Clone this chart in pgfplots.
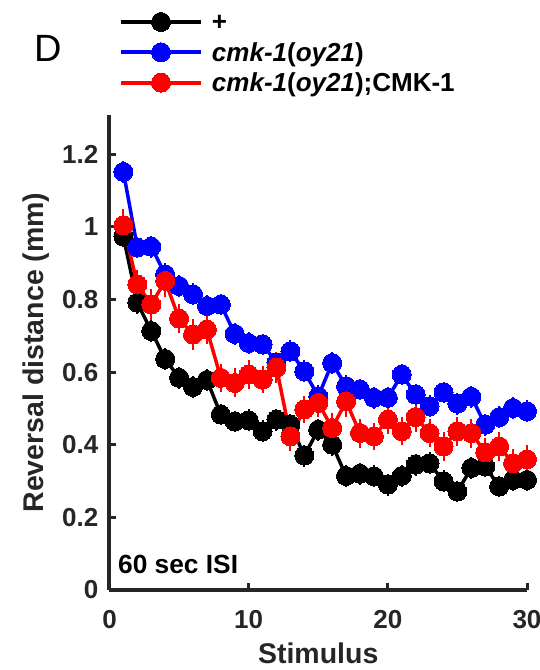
\documentclass[border=0pt]{standalone}
\usepackage{fontspec}
\setmainfont{Liberation Sans}
\usepackage{pgfplots}
\usepackage{pgfplotstable}
\pgfplotsset{compat=1.18}
\definecolor{axgray}{HTML}{262626}

\pgfplotstableread{
x y e
1 0.973 0.030
2 0.791 0.030
3 0.713 0.030
4 0.636 0.030
5 0.584 0.030
6 0.559 0.030
7 0.578 0.030
8 0.483 0.030
9 0.464 0.030
10 0.467 0.030
11 0.437 0.030
12 0.469 0.030
13 0.455 0.030
14 0.370 0.030
15 0.441 0.030
16 0.400 0.030
17 0.314 0.030
18 0.320 0.030
19 0.313 0.030
20 0.290 0.030
21 0.314 0.030
22 0.345 0.030
23 0.349 0.030
24 0.299 0.030
25 0.271 0.030
26 0.336 0.030
27 0.340 0.030
28 0.285 0.030
29 0.303 0.030
30 0.303 0.030
}\wt

\pgfplotstableread{
x y e
1 1.151 0.030
2 0.943 0.030
3 0.945 0.030
4 0.869 0.030
5 0.837 0.030
6 0.814 0.030
7 0.782 0.030
8 0.786 0.030
9 0.705 0.030
10 0.680 0.030
11 0.676 0.030
12 0.626 0.030
13 0.657 0.030
14 0.602 0.030
15 0.533 0.030
16 0.625 0.030
17 0.561 0.030
18 0.552 0.030
19 0.529 0.030
20 0.529 0.030
21 0.593 0.030
22 0.538 0.030
23 0.506 0.030
24 0.544 0.030
25 0.513 0.030
26 0.532 0.030
27 0.455 0.030
28 0.476 0.030
29 0.501 0.030
30 0.492 0.030
}\mut

\pgfplotstableread{
x y e
1 1.004 0.045
2 0.841 0.040
3 0.786 0.042
4 0.851 0.045
5 0.747 0.040
6 0.703 0.042
7 0.717 0.040
8 0.584 0.038
9 0.570 0.040
10 0.593 0.040
11 0.579 0.038
12 0.612 0.042
13 0.423 0.040
14 0.497 0.038
15 0.515 0.040
16 0.446 0.040
17 0.519 0.042
18 0.432 0.040
19 0.423 0.038
20 0.469 0.040
21 0.437 0.038
22 0.476 0.040
23 0.432 0.038
24 0.395 0.040
25 0.437 0.040
26 0.432 0.040
27 0.379 0.040
28 0.395 0.040
29 0.349 0.038
30 0.360 0.040
}\rescue

\begin{document}
\begin{tikzpicture}
\path[use as bounding box] (-109.5pt,-80pt) rectangle (430.5pt,590pt);
\begin{axis}[
  at={(0pt,0pt)}, anchor=south west,
  scale only axis, width=417.5pt, height=475pt,
  xmin=0, xmax=30, ymin=0, ymax=1.3077,
  clip=false,
  axis lines=left,
  axis line style={-, line width=4pt, color=axgray},
  tick align=inside, xtick pos=bottom, ytick pos=left,
  major tick length=7pt,
  tick style={line width=3pt, color=axgray},
  xtick={0,10,20,30},
  ytick={0,0.2,0.4,0.6,0.8,1,1.2},
  yticklabels={0,0.2,0.4,0.6,0.8,1,1.2},
  /pgf/number format/assume math mode=true,
  ticklabel style={font=\fontsize{26}{30}\selectfont\bfseries, color=axgray},
  yticklabel style={inner sep=0pt, anchor=east, xshift=-11pt},
  xticklabel style={inner sep=0pt, anchor=north, yshift=-20pt},
  xlabel={Stimulus},
  ylabel={Reversal distance (mm)},
  label style={font=\fontsize{28.5}{32}\selectfont\bfseries, color=axgray},
  xlabel style={at={(axis description cs:0.5,-0.154)}, anchor=base, inner sep=0pt},
  ylabel style={at={(axis description cs:-0.1746,0.5)}, anchor=center, inner sep=0pt},
  legend style={draw=none, fill=none, at={(0,1)}, anchor=north west,
    xshift=9.5pt, yshift=108pt, inner sep=0pt, outer sep=0pt,
    row sep=0.3pt, column sep=9pt,
    font=\fontsize{26}{30}\selectfont\bfseries,
    nodes={inner sep=0pt, text height=24pt, text depth=6pt},
    cells={anchor=west}},
  legend image code/.code={
    \draw[#1, line width=4pt, mark=none] (0pt,0pt) -- (80pt,0pt);
    \draw[#1, mark repeat=2, mark phase=2, draw=none] plot coordinates {(0pt,0pt) (40pt,0pt) (80pt,0pt)};
  },
  every axis plot/.append style={line width=3.5pt, mark=*, mark size=9.5pt,
     mark options={solid, line width=0pt}},
]
\addplot[black, error bars/.cd, y dir=both, y explicit, error mark=none,
   error bar style={line width=2pt, black}]
   table[x=x, y=y, y error=e] {\wt};
\addlegendentry{+}
\addplot[blue, error bars/.cd, y dir=both, y explicit, error mark=none,
   error bar style={line width=2pt, blue}]
   table[x=x, y=y, y error=e] {\mut};
\addlegendentry{\textit{cmk-1}(\textit{oy21})}
\addplot[red, error bars/.cd, y dir=both, y explicit, error mark=none,
   error bar style={line width=2pt, red}]
   table[x=x, y=y, y error=e] {\rescue};
\addlegendentry{\textit{cmk-1}(\textit{oy21});CMK-1}
\node[anchor=base west, inner sep=0pt, font=\fontsize{26.3}{30}\selectfont\bfseries]
  at (axis description cs:0.0204,0.0337) {60 sec ISI};
\end{axis}
\node[anchor=base west, inner sep=0pt, font=\fontsize{38}{40}\selectfont] at (-75pt,528pt) {D};
\end{tikzpicture}
\end{document}
